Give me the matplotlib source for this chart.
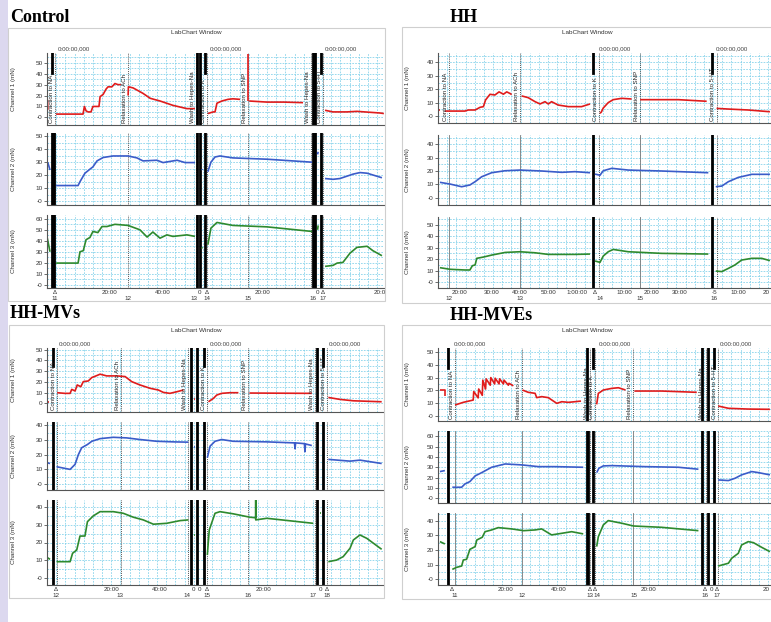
import matplotlib
matplotlib.use("Agg")
import matplotlib.pyplot as plt
from matplotlib.patches import Rectangle
import numpy as np

plt.rcParams['font.family'] = ['Liberation Sans', 'DejaVu Sans']

W, H = 771, 622
PX_PER_MIN = 2.75          # display scale of the LabChart time axis
COLORS = ['#e01c1c', '#3b5cc9', '#2e8a2e']
GRID = '#7dcfe9'

# ---------------- data (times in minutes on the displayed axis) ----------------
# Control
ctrl_ylim = [(-7, 59), (-3, 52.5), (-3, 63.5)]
ctrl_yticks = [[0, 10, 20, 30, 40, 50], [0, 10, 20, 30, 40, 50], [0, 10, 20, 30, 40, 50, 60]]
ctrl_ytlabels = [['-0', '10', '20', '30', '40', '50'], ['-0', '10', '20', '30', '40', '50'],
                 ['-0', '10', '20', '30', '40', '50', '60']]
ctrl_events_t = [2.9, 29.5, 54.2, 58.2, 73.1, 96.0, 100.4]
ctrl_events = ['Contraction to NA', 'Relaxation to ACh', 'Wash to Hepes-Na', 'Contraction to K',
               'Relaxation to SNP', 'Wash to Hepes-Na', 'Contraction to 5-HT']
ctrl_bars_all = [54.7, 55.6, 96.7, 97.5]
ctrl_bars_mark = [1.9, 57.5, 99.6]
ctrl_bars_low = [2.7]
ctrl_stamps = [4.0, 59.3, 101.1]
ctrl_row1 = [('Δ', 2.9), ('20:00', 22.9), ('40:00', 42.2), ('0', 55.6), ('Δ', 58.2),
             ('20:00', 78.5), ('0', 98.2), ('Δ', 100.4), ('20:0', 121.1)]
ctrl_row2 = [('11', 2.9), ('12', 29.5), ('13', 53.5), ('14', 58.2), ('15', 73.1), ('16', 96.7), ('17', 100.4)]
ctrl_ch1 = [
    ([0.2, 0.3], [16, 7]),
    ([3.3, 13.1, 13.6, 14.2, 14.9, 16, 16.7, 18.9, 19.3, 20.4, 21.5, 22.2, 23.6, 24.7, 25.8, 26.9],
     [3, 3, 10, 6, 5, 5, 10, 10, 19, 21, 26, 28, 28, 31, 30, 30]),
    ([29.5, 29.6, 31.3, 34.9, 37.5, 41.1, 45.8, 50.9, 53.8], [20, 28, 27, 22, 17.5, 15, 11, 8, 8]),
    ([58.5, 60.4, 61.1, 61.8, 63.6, 65.8, 67.6, 70.2], [3.5, 5, 5, 13, 15, 16.5, 17, 16.5]),
    ([73.1, 73.1], [58, 15]),
    ([73.5, 80, 86, 93.1], [15, 14, 14, 13.5]),
    ([101.1, 104, 109.1, 112.7, 121.1, 122.5], [6.5, 5, 5, 5.5, 4, 3.5]),
]
ctrl_ch2 = [
    ([0.25, 1.1], [30, 24]),
    ([3.3, 11.3, 12, 13.8, 15.6, 16.7, 18.2, 20.4, 24, 29.5, 32.7, 34.9, 40, 42.2, 47.3, 50.2, 53.8],
     [12, 12, 15, 21.5, 24.6, 26.4, 31, 33.6, 34.8, 34.8, 33.3, 31, 31.5, 29.7, 31.5, 29.7, 29.7]),
    ([56.3, 56.5], [24.6, 24]),
    ([58.5, 59.6, 61.1, 62.9, 67.6, 80, 96.4], [22.6, 30, 34, 34.8, 33.3, 32.3, 30]),
    ([98.4, 98.6], [36, 38]),
    ([101.1, 104, 106.5, 111.3, 113.8, 116.4, 121.8], [17.4, 16.8, 17.4, 20.8, 22, 21.5, 18]),
]
ctrl_ch3 = [
    ([0.1, 1.1], [42.5, 30]),
    ([3.3, 11.3, 12, 13.2, 14.2, 15.6, 16.7, 18.5, 20, 21.8, 24.7, 29.5, 33.8, 36.4, 38.5, 41.1, 43.6, 45.8, 50.9, 53.8],
     [19.7, 19.7, 30, 31, 41, 43, 48.5, 47.5, 53, 53, 55, 54, 50, 43.4, 48, 42.4, 45.4, 44, 45.4, 44]),
    ([56.3, 56.5], [34, 33]),
    ([58.5, 59.6, 61.8, 67.6, 80, 96.4], [36.4, 51.5, 56.7, 54, 52.7, 48.5]),
    ([98.4, 98.6], [50, 54]),
    ([101.1, 104, 105.5, 107.6, 110.2, 112.7, 116.4, 118.5, 121.8],
     [16.7, 17.6, 19.7, 20.3, 28.8, 34, 35, 31, 26.4]),
]

# HH
hh_ylim = [(-5.2, 47), (-5.5, 47), (-5, 56.5)]
hh_yticks = [[0, 10, 20, 30, 40], [0, 10, 20, 30, 40], [0, 10, 20, 30, 40, 50]]
hh_ytlabels = [['-0', '10', '20', '30', '40'], ['-0', '10', '20', '30', '40'],
               ['-0', '10', '20', '30', '40', '50']]
hh_events_t = [4.0, 29.8, 58.7, 73.5, 101.3]
hh_events = ['Contraction to NA', 'Relaxation to ACh', 'Contraction to K', 'Relaxation to SNP', 'Contraction to 5-HT']
hh_bars_all = []
hh_bars_mark = [56.2, 99.7]
hh_bars_low = []
hh_stamps = [58.6, 101.1]
hh_row1 = [('20:00', 8), ('30:00', 19.5), ('40:00', 29.8), ('50:00', 40.1), ('1:00:00', 50.4), ('Δ', 57.1),
           ('10:00', 67.9), ('20:00', 77.7), ('30:00', 88), ('-5', 100.4), ('10:00', 109.1), ('20', 119.3)]
hh_row2 = [('12', 4), ('13', 29.8), ('14', 58.9), ('15', 73.5), ('16', 100.4)]
hh_ch1 = [
    ([0.5, 0.9], [4.5, 4.5]),
    ([2.5, 9.8, 11, 13.5, 15.3, 16.5, 17.3, 18.9, 20.7, 22.2, 23.8, 25, 26.2, 26.8],
     [3.7, 3.7, 4.5, 4.5, 6.5, 7, 12, 16.2, 15.7, 18, 16.3, 18, 16.8, 16]),
    ([30.4, 32.8, 35.3, 37.1, 38.9, 40.1, 41.3, 43.7, 47.4, 52.2, 55.3],
     [15, 13.7, 10.7, 9, 10.7, 9, 10.7, 8.2, 7, 7, 9]),
    ([58.9, 59.4, 60.1, 61.9, 63.7, 66.8, 70.4], [2, 3, 6, 10, 12.2, 13.2, 12.7]),
    ([73.5, 87.4, 97.7], [12.2, 12.2, 11]),
    ([101.3, 105.6, 112.8, 120.7], [5.7, 5.2, 4.5, 3.2]),
]
hh_ch2 = [
    ([0.7, 4.4, 8.6, 11.6, 13.5, 15.9, 19.5, 24.4, 29.8, 37.7, 45, 49.8, 55.3],
     [11.5, 10.2, 8.2, 9.5, 12, 15.7, 18.7, 20.2, 20.7, 20, 19, 19.5, 18.7]),
    ([57.1, 58.9, 60.1, 63.2, 69.2, 81.3, 98.3], [17.7, 16.8, 20.2, 22, 20.7, 20, 18.7]),
    ([101, 103.2, 105.6, 109.2, 114.1, 120.7], [8.2, 8.7, 12, 15.2, 17.5, 17.5]),
]
hh_ch3 = [
    ([0.7, 4.4, 9.8, 11.6, 12.5, 13.5, 14.1, 16.5, 19.5, 24.4, 29.8, 35.3, 40.1, 49.8, 55.3],
     [12.6, 11.2, 10.6, 10.6, 14.3, 15, 20.7, 21.8, 23.5, 25.8, 26.4, 25.5, 24.1, 24.1, 24.4]),
    ([57.1, 58.9, 60.1, 61.9, 63.7, 69.2, 81.3, 98.3], [18.4, 17.2, 22.7, 26.4, 28.4, 26.4, 25, 24.4]),
    ([101, 103.2, 105.6, 108, 110.4, 114.1, 117.7, 120.7], [9.7, 9.2, 12, 15, 19.2, 20.7, 20.7, 18.7]),
]

# HH-MVs
mvs_ylim = [(-7.9, 51.5), (-4, 42.2), (-3.7, 43.7)]
mvs_yticks = [[0, 10, 20, 30, 40, 50], [0, 10, 20, 30, 40], [0, 10, 20, 30, 40]]
mvs_ytlabels = [['0', '10', '20', '30', '40', '50'], ['-0', '10', '20', '30', '40'],
                ['-0', '10', '20', '30', '40']]
mvs_events_t = [3.5, 26.8, 51.4, 58.3, 73.2, 97.5, 101.7]
mvs_events = ctrl_events
mvs_bars_all = [52.4, 54.6, 98.1]
mvs_bars_mark = [2.0, 57.1, 100.4]
mvs_bars_low = []
mvs_stamps = [4.1, 59.3, 102.3]
mvs_row1 = [('Δ', 3.3), ('20:00', 23.5), ('40:00', 41.1), ('0', 53.2), ('0', 55.6), ('Δ', 58.1),
            ('20:00', 78.7), ('0', 99.3), ('Δ', 101.7)]
mvs_row2 = [('12', 3.3), ('13', 26.5), ('14', 50.8), ('15', 58.1), ('16', 73.2), ('17', 96.8), ('18', 101.7)]
mvs_ch1 = [
    ([0.4, 0.7], [1.5, 1.5]),
    ([3.7, 6.5, 8.4, 9, 10.2, 11, 12.3, 13.2, 15, 16.3, 18.1, 19.3, 21.7, 25.3, 28.4, 30.8, 33.8, 37.5,
      40.5, 42.3, 44.7, 47.2, 49.6],
     [10, 9.4, 9.4, 13.1, 11.6, 17.2, 15.6, 20.3, 20.9, 24.1, 25.9, 27.2, 25.6, 25.6, 25, 20.3, 17.2, 14.1,
      12.5, 10.3, 9.4, 10.9, 12.5]),
    ([53.5, 53.7], [3.8, 3.8]),
    ([58.7, 60.5, 61.7, 63.5, 66.5, 69.6], [1.6, 4.7, 7.8, 9.4, 10, 10]),
    ([73.6, 96.3], [9.7, 9.4]),
    ([102.3, 106.5, 111.4, 121.7], [5.6, 3.8, 2.5, 1.6]),
]
mvs_ch2 = [
    ([0.1, 1.1], [14.5, 14]),
    ([3.5, 8.4, 10.2, 11.4, 12.6, 14.7, 16.3, 19.3, 24.1, 29, 33.8, 39.9, 45.9, 51.4],
     [11.8, 10, 13.4, 20, 24.7, 26.9, 29.1, 30.9, 31.8, 31.4, 30.3, 29.1, 28.7, 28.5]),
    ([53.5, 53.7], [25, 25]),
    ([58.3, 59.3, 61.1, 63.5, 67.7, 79.9, 90.0, 90.2, 90.4, 93.6, 93.8, 94.0, 96.3],
     [17.9, 25.8, 29.1, 30.3, 29.1, 28.7, 28, 24, 28, 27.5, 22, 27.3, 26.2]),
    ([99.2, 99.4], [29.6, 29.6]),
    ([102.3, 110.2, 113.8, 121.7], [16.8, 15.6, 16.3, 14]),
]
mvs_ch3 = [
    ([0, 1.1], [11.7, 10.6]),
    ([3.5, 8.4, 9.3, 10.8, 12, 13.8, 14.7, 16.8, 19.3, 24.1, 27.7, 31.4, 35, 38.7, 43.5, 48.4, 51.4],
     [9.3, 9.3, 14, 15.8, 23.6, 23.6, 31.6, 34.8, 37.2, 37.2, 36.3, 34.1, 32.6, 30.2, 30.7, 32.2, 32.6]),
    ([53.5, 53.7], [24.2, 24.2]),
    ([56.3, 56.5], [22.7, 22.7]),
    ([58.3, 59, 61.1, 62.9, 67.7, 73.8, 75.9, 75.9, 75.9, 79.9, 96.8],
     [13, 27, 36.3, 37.2, 36, 34.1, 33.8, 43.7, 32.6, 33.5, 30.7]),
    ([99.4, 99.6], [36.7, 36.7]),
    ([102.3, 105.3, 107.7, 110.2, 111.4, 113.8, 116.3, 121.7], [9.3, 10.2, 12.1, 16.8, 21.4, 24.2, 22.3, 16.2]),
]

# HH-MVEs
mves_ylim = [(-4.2, 53.3), (-4.6, 65.3), (-3.9, 45.4)]
mves_yticks = [[0, 10, 20, 30, 40, 50], [0, 10, 20, 30, 40, 50, 60], [0, 10, 20, 30, 40]]
mves_ytlabels = [['-0', '10', '20', '30', '40', '50'], ['-0', '10', '20', '30', '40', '50', '60'],
                 ['-0', '10', '20', '30', '40']]
mves_events_t = [6.2, 30.7, 55.3, 57.1, 71.0, 97.3, 101.7]
mves_events = ctrl_events
mves_bars_all = [54.1, 96.1, 98.3]
mves_bars_mark = [3.7, 56.5, 100.5]
mves_bars_low = [54.7]
mves_stamps = [5.6, 58.3, 102.3]
mves_row1 = [('Δ', 5.2), ('20:00', 24.4), ('40:00', 44), ('Δ', 55.3), ('Δ', 57.1), ('20:00', 76.5),
             ('Δ', 97.1), ('0', 99.5), ('Δ', 101.6), ('20', 119.4)]
mves_row2 = [('11', 5.9), ('12', 30.4), ('13', 55.1), ('14', 57.7), ('15', 71.1), ('16', 97.1), ('17', 101.6)]
mves_ch1 = [
    ([0.7, 2.4, 2.4], [20.2, 20.2, 15.7]),
    ([6.2, 9.2, 12.8, 13.0, 14.6, 14.8, 16.1, 16.3, 17.3, 17.5, 19.0, 19.2, 20.6, 20.8, 22.2, 22.4, 23.8,
      24.0, 25.6, 25.8, 27.4],
     [8.4, 10.5, 12.3, 19, 14, 21, 16, 28, 21, 29, 24, 30, 25, 29.5, 25, 29, 25, 28, 24, 25.5, 23.5]),
    ([30.7, 32.8, 35.3, 35.9, 37.7, 40.1, 43.2, 45, 47.4, 49.8, 52],
     [20.2, 18.4, 17.6, 14.2, 15, 14.2, 9.7, 11, 10.5, 11, 11.5]),
    ([57.7, 58.3, 58.9, 60.1, 63.2, 65.6, 68.2], [8.9, 17.6, 18.4, 20.2, 21.5, 22, 20.2]),
    ([71.4, 81.3, 94.1], [19.4, 19.4, 18.4]),
    ([101.9, 105.6, 112.8, 120.7], [7.6, 5.8, 5.2, 5]),
]
mves_ch2 = [
    ([0.7, 2.5], [25.9, 26.9]),
    ([5.2, 8.6, 9.8, 11.6, 13.5, 15.9, 19.5, 24.4, 30.4, 36.5, 42.5, 52.8],
     [10.7, 10.7, 13.9, 16.2, 21.7, 24.9, 30.1, 33.3, 32.4, 30.7, 30.7, 30.1]),
    ([57.7, 58.5, 60.1, 63.2, 75.3, 87.4, 94.7], [24.9, 29.1, 31.4, 31.7, 30.7, 30.1, 28.2]),
    ([98.8, 99.0], [27.5, 27.5]),
    ([101.9, 105.6, 108, 110.4, 114.1, 116.5, 120.7], [17.8, 17.2, 19.4, 22.7, 25.9, 24.9, 22.7]),
]
mves_ch3 = [
    ([0.7, 2.5], [25.8, 24.2]),
    ([5.2, 6.8, 8.6, 9.2, 10.4, 11.6, 13.5, 14.1, 16.1, 17.1, 19.5, 21.9, 26.8, 31.1, 35.3, 37.7, 41.3, 45,
      48.6, 52.8],
     [6.8, 8.2, 9.1, 13.2, 13.7, 20.5, 22.4, 26.9, 28.8, 32.6, 33.8, 35.4, 34.5, 33.3, 33.8, 34.5, 30.4,
      31.5, 32.6, 31.1]),
    ([57.7, 58.3, 60.1, 61.9, 66.8, 71.1, 81.3, 94.7], [22.4, 29.2, 37.2, 40.2, 38.4, 36.5, 35.6, 33.3]),
    ([98.8, 99.0], [21.2, 21.2]),
    ([101.9, 105.6, 106.8, 109.2, 110.4, 112.8, 114.7, 117.7, 120.7],
     [9.1, 11, 14.4, 17.8, 23.5, 25.8, 25.1, 21.9, 18.9]),
]

# ---------------- layout (pixels of the 771x622 canvas) ----------------
layouts = {
    'Control': dict(title=(10, 17), frame=(8, 28, 385, 301), x0=47, x1=384, ylab_x=14,
                    rows=[(53, 125), (133, 205), (215, 288)], solid=[]),
    'HH': dict(title=(450, 17), frame=(402, 27, 772, 303), x0=438, x1=771, ylab_x=407,
               rows=[(53, 123), (135, 205), (217, 288)], solid=[0, 1, 3]),
    'HH-MVs': dict(title=(10, 314), frame=(9, 325, 384, 598), x0=47, x1=383, ylab_x=14,
                   rows=[(348, 412), (422, 490), (500, 585)], solid=[]),
    'HH-MVEs': dict(title=(450, 315), frame=(402, 325, 772, 599), x0=438, x1=771, ylab_x=407,
                    rows=[(348, 421), (431, 503), (513, 585)], solid=[0, 1, 4]),
}

panels = [
    ('Control', ctrl_ylim, ctrl_yticks, ctrl_ytlabels, [ctrl_ch1, ctrl_ch2, ctrl_ch3], ctrl_events_t, ctrl_events,
     ctrl_bars_all, ctrl_bars_mark, ctrl_bars_low, ctrl_stamps, ctrl_row1, ctrl_row2),
    ('HH', hh_ylim, hh_yticks, hh_ytlabels, [hh_ch1, hh_ch2, hh_ch3], hh_events_t, hh_events,
     hh_bars_all, hh_bars_mark, hh_bars_low, hh_stamps, hh_row1, hh_row2),
    ('HH-MVs', mvs_ylim, mvs_yticks, mvs_ytlabels, [mvs_ch1, mvs_ch2, mvs_ch3], mvs_events_t, mvs_events,
     mvs_bars_all, mvs_bars_mark, mvs_bars_low, mvs_stamps, mvs_row1, mvs_row2),
    ('HH-MVEs', mves_ylim, mves_yticks, mves_ytlabels, [mves_ch1, mves_ch2, mves_ch3], mves_events_t, mves_events,
     mves_bars_all, mves_bars_mark, mves_bars_low, mves_stamps, mves_row1, mves_row2),
]

fig = plt.figure(figsize=(W / 100, H / 100), dpi=100)
fig.patch.set_facecolor('white')
fig.add_artist(Rectangle((0, 0), 8 / W, 1, transform=fig.transFigure, fc='#dcd8ef', ec='none'))


def px_axes(x0, y0, x1, y1):
    return fig.add_axes([x0 / W, 1 - y1 / H, (x1 - x0) / W, (y1 - y0) / H])


for (name, ylims, yticks, ytlabels, channels, ev_t, ev_lab, b_all, b_mark, b_low,
     stamps, row1, row2) in panels:
    L = layouts[name]
    fx0, fy0, fx1, fy1 = L['frame']
    fig.add_artist(Rectangle((fx0 / W, 1 - fy1 / H), (fx1 - fx0) / W, (fy1 - fy0) / H,
                             transform=fig.transFigure, fill=False, ec='#cfcfcf', lw=0.8))
    fig.text(L['title'][0] / W, 1 - L['title'][1] / H, name, family='Liberation Serif',
             fontweight='bold', fontsize=13, ha='left', va='center')
    fig.text((fx0 + fx1) / 2 / W, 1 - (fy0 + 5) / H, 'LabChart Window', fontsize=4.6,
             ha='center', va='center', color='#333333')
    xmax = (L['x1'] - L['x0']) / PX_PER_MIN
    for i, (y0, y1) in enumerate(L['rows']):
        ax = px_axes(L['x0'], y0, L['x1'], y1)
        ax.set_facecolor('none')
        ax.set_xlim(0, xmax)
        ax.set_ylim(*ylims[i])
        ax.set_xticks([])
        ax.set_xticks(np.arange(10 / 3, xmax, 10 / 3), minor=True)
        ax.set_yticks(yticks[i])
        ax.set_yticklabels(ytlabels[i])
        ax.set_yticks(np.arange(5, ylims[i][1], 10), minor=True)
        ax.grid(which='both', color=GRID, lw=0.55, ls=(0, (2.2, 1.6)))
        ax.tick_params(axis='y', which='major', labelsize=4.6, length=2, width=0.5, pad=1,
                       colors='#333333')
        ax.tick_params(which='minor', length=0)
        for s in ['top', 'right']:
            ax.spines[s].set_visible(False)
        for s in ['left', 'bottom']:
            ax.spines[s].set_color('#555555')
            ax.spines[s].set_linewidth(0.8)
        xf = ax.get_xaxis_transform()

        # event markers
        for k, t in enumerate(ev_t):
            if i > 0 and k in L['solid']:
                ax.axvline(t, color='#777777', lw=0.6)
            else:
                ax.axvline(t, color='#222222', lw=0.6, ls=(0, (1, 1.3)))
        # block separators
        for t in b_all:
            ax.axvline(t, color='black', lw=2.0)
        for t in b_mark:
            if i == 0:
                ax.axvline(t, ymin=0.72, ymax=1, color='black', lw=2.0)
            else:
                ax.axvline(t, color='black', lw=2.0)
        if i > 0:
            for t in b_low:
                ax.axvline(t, color='black', lw=2.0)

        for t, v in channels[i]:
            ax.plot(t, v, color=COLORS[i], lw=1.2, solid_capstyle='butt')

        fig.text(L['ylab_x'] / W, 1 - (y0 + y1) / 2 / H, f'Channel {i + 1} (mN)', rotation=90,
                 fontsize=4.5, ha='center', va='center', color='#333333')

        if i == 0:
            for t, lab in zip(ev_t, ev_lab):
                ax.annotate(lab, xy=(t, 0), xycoords=xf, xytext=(-0.8, 1.5), textcoords='offset points',
                            rotation=90, ha='right', va='bottom', fontsize=4.4, color='#222222')
            for t in stamps:
                ax.annotate('0:00:00,000', xy=(t, 1), xycoords=xf, xytext=(0, 1.5),
                            textcoords='offset points', ha='left', va='bottom', fontsize=4.4,
                            color='#444444')
        if i == 2:
            for lab, t in row1:
                ax.annotate(lab, xy=(t, 0), xycoords=xf, xytext=(0, -1.5), textcoords='offset points',
                            ha='center', va='top', fontsize=4.5, color='#333333', annotation_clip=False)
            for lab, t in row2:
                ax.annotate(lab, xy=(t, 0), xycoords=xf, xytext=(0, -5.5), textcoords='offset points',
                            ha='center', va='top', fontsize=4.5, color='#333333', annotation_clip=False)

fig.savefig('out.png', dpi=100)
